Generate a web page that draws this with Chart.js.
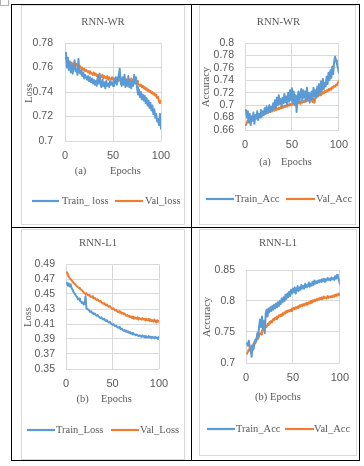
<!DOCTYPE html>
<html>
<head>
<meta charset="utf-8">
<script src="https://cdn.jsdelivr.net/npm/chart.js@4.4.1/dist/chart.umd.min.js"></script>
<style>
  html, body { margin: 0; padding: 0; background: #fff; }
  body { width: 364px; height: 466px; position: relative; overflow: hidden; }
  .abs { position: absolute; box-sizing: border-box; }
  .cbox { position: absolute; box-sizing: border-box; border: 1px solid #d9d9d9; pointer-events: none; }
  canvas { position: absolute; }
</style>
</head>
<body>
<div class="abs" style="left:0;top:0;width:9px;height:6px;border:1px solid #b0b0b0;border-top:none;"></div>
<div class="abs" style="left:11px;top:4px;width:349px;height:457px;border:1px solid #000;"></div>
<div class="abs" style="left:191px;top:4px;width:1px;height:457px;background:#000;"></div>
<div class="abs" style="left:11px;top:227px;width:349px;height:1px;background:#000;"></div>

<canvas id="c1" width="164" height="220" style="left:21px;top:5px;"></canvas>
<canvas id="c2" width="157" height="220" style="left:199px;top:5px;"></canvas>
<canvas id="c3" width="164" height="231" style="left:21px;top:229px;"></canvas>
<canvas id="c4" width="158" height="227" style="left:199px;top:229px;"></canvas>
<div class="cbox" style="left:21px;top:5px;width:164px;height:220px;"></div>
<div class="cbox" style="left:199px;top:5px;width:157px;height:220px;"></div>
<div class="cbox" style="left:21px;top:229px;width:164px;height:231px;"></div>
<div class="cbox" style="left:199px;top:229px;width:158px;height:227px;"></div>

<script>
// ---------- DATA ----------
const epochs = Array.from({length: 100}, (_, i) => i + 1);
const xTicks = [0, 50, 100];

// (a) RNN-WR loss
const trainLossWR = [
  0.772,0.760,0.768,0.758,0.764,0.756,0.762,0.755,0.760,0.766,0.757,0.759,0.754,0.767,0.756,
  0.755,0.758,0.753,0.756,0.751,0.754,0.752,0.750,0.753,0.749,0.752,0.748,0.751,0.747,0.750,
  0.746,0.749,0.745,0.752,0.747,0.755,0.746,0.744,0.750,0.745,0.748,0.743,0.749,0.745,0.747,
  0.744,0.749,0.746,0.748,0.745,0.751,0.747,0.752,0.746,0.750,0.753,0.759,0.748,0.745,0.752,
  0.746,0.754,0.744,0.750,0.745,0.753,0.744,0.748,0.743,0.749,0.745,0.754,0.747,0.752,0.744,
  0.738,0.742,0.736,0.740,0.734,0.738,0.733,0.737,0.731,0.735,0.729,0.733,0.727,0.731,0.725,
  0.729,0.722,0.726,0.719,0.722,0.716,0.718,0.713,0.722,0.710
];
const valLossWR = [
  0.768,0.766,0.765,0.764,0.765,0.763,0.764,0.762,0.763,0.761,0.762,0.763,0.761,0.762,0.760,
  0.761,0.759,0.760,0.758,0.759,0.757,0.758,0.757,0.756,0.757,0.755,0.756,0.755,0.754,0.756,
  0.754,0.755,0.753,0.754,0.752,0.754,0.753,0.752,0.754,0.751,0.753,0.752,0.751,0.753,0.750,
  0.752,0.751,0.750,0.752,0.750,0.751,0.749,0.751,0.750,0.752,0.749,0.751,0.750,0.749,0.751,
  0.750,0.749,0.751,0.749,0.750,0.748,0.750,0.749,0.751,0.748,0.750,0.749,0.751,0.748,0.749,
  0.747,0.746,0.745,0.746,0.744,0.745,0.743,0.744,0.742,0.743,0.741,0.742,0.740,0.741,0.739,
  0.740,0.738,0.739,0.737,0.738,0.735,0.736,0.732,0.731,0.733
];
const yTicksLossWR = [0.7, 0.72, 0.74, 0.76, 0.78];

// (a) RNN-WR accuracy
const trainAccWR = [
  0.692,0.680,0.690,0.672,0.686,0.668,0.682,0.675,0.688,0.670,0.684,0.678,0.690,0.676,0.686,
  0.680,0.692,0.682,0.690,0.684,0.695,0.686,0.698,0.688,0.694,0.700,0.689,0.697,0.692,0.703,
  0.695,0.708,0.697,0.712,0.700,0.716,0.702,0.710,0.698,0.712,0.703,0.718,0.705,0.714,0.700,
  0.720,0.706,0.724,0.708,0.727,0.704,0.722,0.700,0.716,0.689,0.712,0.722,0.705,0.718,0.726,
  0.708,0.724,0.712,0.722,0.706,0.728,0.710,0.720,0.704,0.716,0.722,0.710,0.728,0.714,0.724,
  0.712,0.730,0.716,0.734,0.720,0.738,0.724,0.742,0.726,0.736,0.730,0.746,0.734,0.752,0.740,
  0.756,0.744,0.762,0.750,0.770,0.778,0.772,0.766,0.760,0.752
];
const valAccWR = [
  0.668,0.672,0.676,0.674,0.679,0.676,0.680,0.678,0.682,0.679,0.681,0.684,0.680,0.685,0.683,
  0.686,0.683,0.687,0.685,0.688,0.686,0.689,0.687,0.690,0.688,0.691,0.689,0.692,0.690,0.693,
  0.691,0.694,0.692,0.695,0.693,0.696,0.694,0.697,0.695,0.698,0.696,0.699,0.697,0.700,0.698,
  0.701,0.699,0.702,0.700,0.703,0.701,0.704,0.702,0.705,0.701,0.706,0.703,0.705,0.702,0.706,
  0.704,0.707,0.705,0.708,0.706,0.709,0.707,0.710,0.708,0.711,0.709,0.705,0.710,0.704,0.712,
  0.713,0.716,0.714,0.718,0.716,0.720,0.718,0.721,0.719,0.723,0.721,0.724,0.722,0.726,0.724,
  0.727,0.725,0.729,0.728,0.731,0.730,0.733,0.732,0.736,0.739
];
const yTicksAccWR = [0.66, 0.68, 0.7, 0.72, 0.74, 0.76, 0.78, 0.8];

// (b) RNN-L1 loss
const trainLossL1 = [
  0.465,0.461,0.464,0.460,0.463,0.458,0.456,0.453,0.451,0.449,0.447,0.446,0.443,0.444,0.441,
  0.440,0.438,0.439,0.436,0.437,0.447,0.431,0.430,0.429,0.428,0.426,0.427,0.425,0.424,0.423,
  0.424,0.422,0.421,0.422,0.420,0.419,0.418,0.419,0.417,0.416,0.417,0.415,0.414,0.415,0.413,
  0.412,0.413,0.411,0.410,0.409,0.410,0.408,0.407,0.408,0.406,0.405,0.406,0.404,0.403,0.404,
  0.402,0.401,0.402,0.400,0.401,0.399,0.400,0.398,0.399,0.397,0.398,0.396,0.397,0.396,0.395,
  0.396,0.395,0.394,0.395,0.394,0.393,0.395,0.393,0.394,0.392,0.394,0.393,0.392,0.394,0.392,
  0.393,0.391,0.393,0.392,0.391,0.393,0.391,0.392,0.390,0.393
];
const valLossL1 = [
  0.479,0.476,0.473,0.471,0.470,0.468,0.467,0.465,0.464,0.463,0.461,0.460,0.459,0.458,0.457,
  0.456,0.455,0.454,0.452,0.451,0.450,0.451,0.449,0.448,0.449,0.447,0.446,0.447,0.445,0.444,
  0.445,0.443,0.442,0.443,0.441,0.440,0.441,0.439,0.438,0.437,0.438,0.436,0.435,0.436,0.434,
  0.433,0.434,0.432,0.431,0.430,0.431,0.429,0.428,0.429,0.427,0.426,0.427,0.425,0.426,0.424,
  0.425,0.423,0.424,0.422,0.421,0.422,0.420,0.421,0.419,0.420,0.418,0.420,0.417,0.419,0.418,
  0.417,0.419,0.416,0.418,0.417,0.416,0.418,0.416,0.417,0.415,0.417,0.416,0.415,0.417,0.414,
  0.416,0.414,0.415,0.413,0.416,0.414,0.412,0.415,0.413,0.414
];
const yTicksLossL1 = [0.35, 0.37, 0.39, 0.41, 0.43, 0.45, 0.47, 0.49];

// (b) RNN-L1 accuracy
const trainAccL1 = [
  0.732,0.728,0.736,0.725,0.720,0.710,0.728,0.722,0.730,0.738,0.735,0.748,0.742,0.760,0.770,
  0.758,0.775,0.755,0.768,0.748,0.780,0.786,0.775,0.788,0.782,0.790,0.784,0.792,0.786,0.794,
  0.788,0.796,0.790,0.798,0.792,0.800,0.795,0.804,0.798,0.806,0.800,0.810,0.803,0.812,0.806,
  0.815,0.808,0.818,0.812,0.820,0.814,0.822,0.812,0.818,0.824,0.816,0.822,0.818,0.826,0.820,
  0.824,0.820,0.828,0.822,0.826,0.824,0.830,0.823,0.828,0.825,0.831,0.826,0.833,0.828,0.832,
  0.829,0.833,0.830,0.834,0.831,0.835,0.832,0.836,0.831,0.835,0.833,0.837,0.834,0.836,0.833,
  0.838,0.835,0.837,0.834,0.840,0.836,0.842,0.838,0.834,0.828
];
const valAccL1 = [
  0.715,0.718,0.722,0.720,0.725,0.728,0.726,0.731,0.734,0.732,0.738,0.741,0.739,0.745,0.748,
  0.746,0.752,0.755,0.753,0.758,0.760,0.758,0.763,0.761,0.766,0.764,0.768,0.766,0.771,0.769,
  0.773,0.771,0.775,0.773,0.777,0.775,0.778,0.776,0.780,0.778,0.782,0.780,0.784,0.782,0.785,
  0.783,0.786,0.784,0.788,0.786,0.789,0.787,0.790,0.788,0.791,0.789,0.793,0.791,0.794,0.792,
  0.795,0.793,0.796,0.794,0.797,0.795,0.798,0.796,0.800,0.797,0.801,0.799,0.802,0.800,0.803,
  0.801,0.804,0.802,0.805,0.803,0.806,0.804,0.807,0.805,0.806,0.804,0.808,0.805,0.807,0.806,
  0.808,0.806,0.809,0.807,0.810,0.808,0.811,0.809,0.812,0.810
];
const yTicksAccL1 = [0.7, 0.75, 0.8, 0.85];

// ---------- STYLE ----------
const BLUE = '#5b9bd5', ORANGE = '#ed7d31', GRID = '#d9d9d9', TXT = '#595959';
const SERIF = '"Liberation Serif", "Times New Roman", serif';
const SANS = '"Liberation Sans", Arial, sans-serif';

const decor = {
  id: 'decor',
  afterDraw(chart, args, o) {
    const ctx = chart.ctx;
    ctx.save();
    ctx.fillStyle = TXT;
    ctx.textBaseline = 'middle';
    ctx.textAlign = 'center';
    ctx.font = '10.7px ' + SERIF;
    ctx.fillText(o.title, o.titleX, o.titleY);
    ctx.font = '10.5px ' + SERIF;
    o.xTitle.forEach(p => ctx.fillText(p.t, p.x, o.xTitleY));
    ctx.save();
    ctx.translate(o.yTitleX, o.yTitleY);
    ctx.rotate(-Math.PI / 2);
    ctx.fillText(o.yTitle, 0, 0);
    ctx.restore();
    chart.data.datasets.forEach((ds, i) => {
      const L = o.legend[i];
      ctx.strokeStyle = ds.borderColor;
      ctx.lineWidth = 2.2;
      ctx.beginPath();
      ctx.moveTo(L.x0, o.legendY);
      ctx.lineTo(L.x1, o.legendY);
      ctx.stroke();
      ctx.textAlign = 'left';
      ctx.fillText(ds.label, L.tx, o.legendY + 0.5);
    });
    ctx.restore();
  }
};

function makeChart(id, cfg) {
  const cv = document.getElementById(id);
  const W = cv.width, H = cv.height;
  const a = cfg.area; // left, top, right, bottom (local)
  const yW = a.left, xH = 30;
  new Chart(cv, {
    type: 'line',
    data: {
      labels: epochs,
      datasets: [
        { label: cfg.labels[0], data: cfg.train, borderColor: BLUE, backgroundColor: BLUE },
        { label: cfg.labels[1], data: cfg.val, borderColor: ORANGE, backgroundColor: ORANGE }
      ]
    },
    options: {
      responsive: false,
      animation: false,
      devicePixelRatio: 1,
      datasets: { line: { borderWidth: 2, pointRadius: 0, tension: 0, borderJoinStyle: 'round', borderCapStyle: 'round' } },
      layout: { padding: { left: 0, top: a.top, right: W - a.right, bottom: H - a.bottom - xH } },
      plugins: {
        legend: { display: false },
        title: { display: false },
        tooltip: { enabled: false },
        decor: cfg.decor
      },
      scales: {
        x: {
          type: 'linear', min: 0, max: 100,
          afterBuildTicks: s => { s.ticks = xTicks.map(v => ({ value: v })); },
          afterFit: s => { s.height = xH; },
          grid: { color: GRID, drawTicks: false, lineWidth: 1 },
          border: { display: false },
          ticks: { color: TXT, font: { family: SANS, size: 11 }, padding: cfg.xPad, maxRotation: 0, autoSkip: false, callback: v => String(v) }
        },
        y: {
          min: cfg.yTicks[0], max: cfg.yTicks[cfg.yTicks.length - 1],
          afterBuildTicks: s => { s.ticks = cfg.yTicks.map(v => ({ value: v })); },
          afterFit: s => { s.width = yW; },
          grid: { color: GRID, drawTicks: false, lineWidth: 1 },
          border: { display: false },
          ticks: { color: TXT, font: { family: SANS, size: 10.5 }, padding: cfg.yPad, autoSkip: false, callback: v => String(v) }
        }
      }
    },
    plugins: [decor]
  });
}

makeChart('c1', {
  area: { left: 44, top: 38, right: 140, bottom: 136 },
  train: trainLossWR, val: valLossWR, yTicks: yTicksLossWR,
  labels: ['Train_ loss', 'Val_loss'], xPad: 8, yPad: 12,
  decor: {
    title: 'RNN-WR', titleX: 82, titleY: 17,
    xTitle: [{ t: '(a)', x: 59.5 }, { t: 'Epochs', x: 104.5 }], xTitleY: 166,
    yTitle: 'Loss', yTitleX: 8, yTitleY: 88,
    legendY: 196, legend: [{ x0: 11, x1: 38, tx: 41 }, { x0: 94, x1: 122, tx: 124 }]
  }
});
makeChart('c2', {
  area: { left: 46, top: 38, right: 140, bottom: 125 },
  train: trainAccWR, val: valAccWR, yTicks: yTicksAccWR,
  labels: ['Train_Acc', 'Val_Acc'], xPad: 8, yPad: 11,
  decor: {
    title: 'RNN-WR', titleX: 79.5, titleY: 17,
    xTitle: [{ t: '(a)', x: 66 }, { t: 'Epochs', x: 97.5 }], xTitleY: 157,
    yTitle: 'Accuracy', yTitleX: 7, yTitleY: 82,
    legendY: 194, legend: [{ x0: 7, x1: 35, tx: 36 }, { x0: 87, x1: 116, tx: 117 }]
  }
});
makeChart('c3', {
  area: { left: 45, top: 35, right: 138, bottom: 140 },
  train: trainLossL1, val: valLossL1, yTicks: yTicksLossL1,
  labels: ['Train_Loss', 'Val_Loss'], xPad: 8, yPad: 11,
  decor: {
    title: 'RNN-L1', titleX: 77, titleY: 14.5,
    xTitle: [{ t: '(b)', x: 61.5 }, { t: 'Epochs', x: 95.5 }], xTitleY: 170,
    yTitle: 'Loss', yTitleX: 7, yTitleY: 88,
    legendY: 201, legend: [{ x0: 6, x1: 34, tx: 35 }, { x0: 90, x1: 118, tx: 119 }]
  }
});
makeChart('c4', {
  area: { left: 47, top: 41, right: 141, bottom: 134 },
  train: trainAccL1, val: valAccL1, yTicks: yTicksAccL1,
  labels: ['Train_Acc', 'Val_Acc'], xPad: 8, yPad: 11,
  decor: {
    title: 'RNN-L1', titleX: 79, titleY: 14.5,
    xTitle: [{ t: '(b) Epochs', x: 79 }], xTitleY: 168,
    yTitle: 'Accuracy', yTitleX: 8, yTitleY: 88,
    legendY: 200, legend: [{ x0: 8, x1: 36, tx: 37 }, { x0: 86, x1: 115, tx: 115 }]
  }
});
</script>
</body>
</html>
